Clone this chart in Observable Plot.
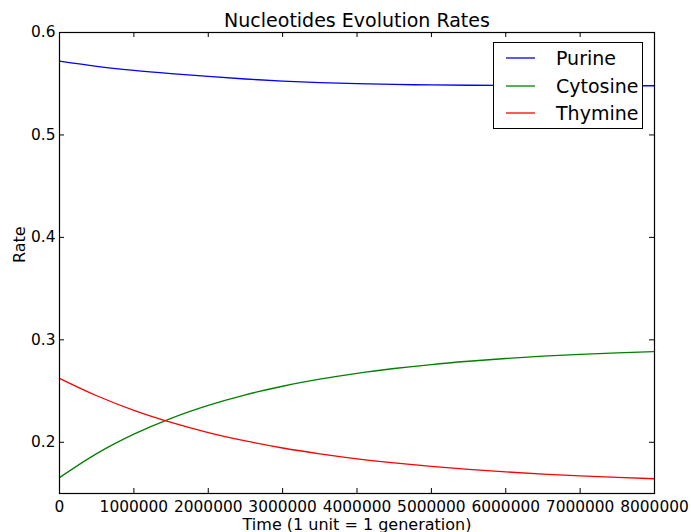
<!DOCTYPE html>
<html>
<head>
<meta charset="utf-8">
<script src="https://cdn.jsdelivr.net/npm/d3@7"></script>
<script src="https://cdn.jsdelivr.net/npm/@observablehq/plot@0.6"></script>
<style>
  html, body { margin: 0; padding: 0; background: #fff; }
  #wrap { position: relative; width: 691px; height: 532px; font-family: "DejaVu Sans", sans-serif; }
  #legend { position: absolute; left: 493px; top: 42px; width: 150px; height: 87px; border: 1px solid #000; background: #fff; box-sizing: border-box; }
  .entry { position: absolute; left: 0; height: 28px; display: flex; align-items: center; font-size: 19px; }
  .entry svg { margin-left: 12px; margin-right: 21px; }
</style>
</head>
<body>
<div id="wrap"></div>
<script>
const time = [0, 500000, 1000000, 1500000, 2000000, 2500000, 3000000, 3500000, 4000000, 4500000, 5000000, 5500000, 6000000, 6500000, 7000000, 7500000, 8000000];
const purine   = [0.5720, 0.5670, 0.5631, 0.5599, 0.5571, 0.5546, 0.5526, 0.5511, 0.5500, 0.5493, 0.5488, 0.5485, 0.5483, 0.5482, 0.5481, 0.5480, 0.5480];
const cytosine = [0.1655, 0.1889, 0.2079, 0.2234, 0.2360, 0.2463, 0.2547, 0.2616, 0.2673, 0.2720, 0.2759, 0.2791, 0.2818, 0.2840, 0.2858, 0.2873, 0.2885];
const thymine  = [0.2624, 0.2454, 0.2312, 0.2194, 0.2095, 0.2013, 0.1944, 0.1887, 0.1839, 0.1799, 0.1765, 0.1736, 0.1711, 0.1690, 0.1672, 0.1657, 0.1644];
const seriesNames = ["Purine", "Cytosine", "Thymine"];
const seriesColors = ["#0000ff", "#008000", "#ff0000"];
const xTicks = [0, 1000000, 2000000, 3000000, 4000000, 5000000, 6000000, 7000000, 8000000];
const yTicks = [0.2, 0.3, 0.4, 0.5, 0.6];
const title = "Nucleotides Evolution Rates";
const xLabel = "Time (1 unit = 1 generation)";
const yLabel = "Rate";

const seriesValues = [purine, cytosine, thymine];
const rows = [];
seriesNames.forEach((name, i) => time.forEach((t, j) => rows.push({series: name, t, v: seriesValues[i][j]})));

const W = 691, H = 532, mT = 32, mB = 39, mL = 59, mR = 37;
const innerW = W - mL - mR, innerH = H - mT - mB, tick = 5;
const font = "DejaVu Sans";

const chart = Plot.plot({
  width: W, height: H,
  marginTop: mT, marginBottom: mB, marginLeft: mL, marginRight: mR,
  style: {fontFamily: font, background: "white"},
  x: {domain: [0, 8000000]},
  y: {domain: [0.15, 0.6]},
  color: {domain: seriesNames, range: seriesColors},
  marks: [
    Plot.line(rows, {x: "t", y: "v", z: "series", stroke: "series", strokeWidth: 1.3, curve: "monotone-x"}),
    Plot.ruleX(xTicks, {x: d => d, insetTop: innerH - tick, stroke: "black"}),
    Plot.ruleX(xTicks, {x: d => d, insetBottom: innerH - tick, stroke: "black"}),
    Plot.ruleY(yTicks, {y: d => d, insetRight: innerW - tick, stroke: "black"}),
    Plot.ruleY(yTicks, {y: d => d, insetLeft: innerW - tick, stroke: "black"}),
    Plot.frame({stroke: "black", strokeWidth: 1.2}),
    Plot.axisX({ticks: xTicks, tickSize: 0, tickPadding: 8, tickFormat: d3.format("d"), fontSize: 15.4, label: null, fill: "black"}),
    Plot.axisY({ticks: yTicks, tickSize: 0, tickPadding: 4, tickFormat: d3.format(".1f"), fontSize: 15.4, label: null, fill: "black"}),
    Plot.text([title], {text: d => d, frameAnchor: "top", dy: -6, lineAnchor: "bottom", fontSize: 19, fill: "black"}),
    Plot.text([xLabel], {text: d => d, frameAnchor: "bottom", dy: 36, lineAnchor: "bottom", fontSize: 16, fill: "black"}),
    Plot.text([yLabel], {text: d => d, frameAnchor: "left", dx: -35, rotate: -90, lineAnchor: "bottom", fontSize: 16, fill: "black"})
  ]
});

const wrap = document.getElementById("wrap");
wrap.appendChild(chart);
const legend = document.createElement("div");
legend.id = "legend";
seriesNames.forEach((name, i) => {
  const e = document.createElement("div");
  e.className = "entry";
  e.style.top = (1 + i * 27.7) + "px";
  e.innerHTML = `<svg width="29" height="4"><line x1="0" x2="29" y1="2" y2="2" stroke="${seriesColors[i]}" stroke-width="1.3"/></svg><span>${name}</span>`;
  legend.appendChild(e);
});
wrap.appendChild(legend);
</script>
</body>
</html>
